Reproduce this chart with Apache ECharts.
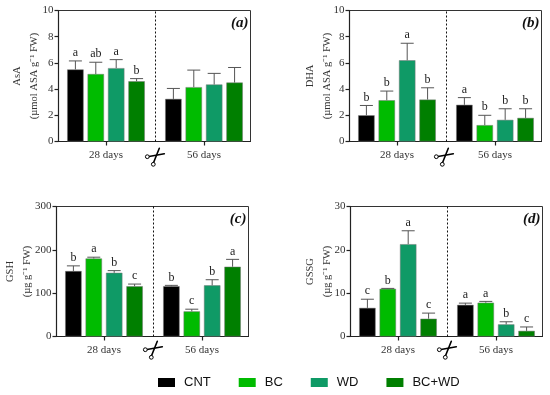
<!DOCTYPE html>
<html><head><meta charset="utf-8">
<script src="https://cdn.jsdelivr.net/npm/echarts@6/dist/echarts.min.js"></script>
<style>html,body{margin:0;padding:0;background:#fff}#c{width:550px;height:395px}</style>
</head><body><div id="c"></div>
<script>
const days = [28, 56];
const treatments = ['CNT', 'BC', 'WD', 'BC+WD'];
const colors = ['#000000', '#00bb00', '#0f9a66', '#007f00'];

// values are listed treatment by treatment for 28 days, then 56 days
const asaMean = [5.5, 5.15, 5.6, 4.6, 3.25, 4.15, 4.35, 4.5];
const asaTop = [6.15, 6.05, 6.25, 4.8, 4.05, 5.45, 5.2, 5.65];
const asaLetters = ['a', 'ab', 'a', 'b', '', '', '', ''];

const dhaMean = [2.0, 3.15, 6.2, 3.2, 2.8, 1.25, 1.65, 1.8];
const dhaTop = [2.75, 3.85, 7.5, 4.1, 3.35, 2.0, 2.5, 2.5];
const dhaLetters = ['b', 'b', 'a', 'b', 'a', 'b', 'b', 'b'];

const gshMean = [151, 180, 147, 116, 116, 58, 118, 161];
const gshTop = [163, 183, 152, 121, 118, 63, 131, 178];
const gshLetters = ['b', 'a', 'b', 'c', 'b', 'c', 'b', 'a'];

const gssgMean = [6.6, 11, 21.3, 4.1, 7.3, 7.8, 2.8, 1.3];
const gssgTop = [8.6, 11.1, 24.4, 5.4, 7.7, 8.1, 3.4, 2.2];
const gssgLetters = ['c', 'b', 'a', 'c', 'a', 'a', 'b', 'c'];

const panels = [
  {tag:'(a)', name:'AsA\n(µmol ASA g⁻¹ FW)', max:10, step:2, mean:asaMean, top:asaTop, letters:asaLetters, left:58.5, y:10.5, h:131, gap:16, sc:[155,156]},
  {tag:'(b)', name:'DHA\n(µmol ASA g⁻¹ FW)', max:10, step:2, mean:dhaMean, top:dhaTop, letters:dhaLetters, left:349.5, y:10.5, h:131, gap:14, sc:[444,156]},
  {tag:'(c)', name:'GSH\n(µg g⁻¹ FW)', max:300, step:100, mean:gshMean, top:gshTop, letters:gshLetters, left:56.5, y:206.5, h:130, gap:21, sc:[153,349]},
  {tag:'(d)', name:'GSSG\n(µg g⁻¹ FW)', max:30, step:10, mean:gssgMean, top:gssgTop, letters:gssgLetters, left:350.5, y:206.5, h:130, gap:15, sc:[447,349]}
];

const serif = '"Liberation Serif", serif';
const W = 192, barW = 16.4, pitch = 20.4;
const xMin = 14.43, xMax = 69.29, cutDay = 42;

const grid = [], xAxis = [], yAxis = [], series = [], title = [], graphic = [];
panels.forEach((p, g) => {
  grid.push({left:p.left, top:p.y, width:W, height:p.h, show:true, outerBoundsMode:'none', borderColor:'#333', borderWidth:1, backgroundColor:'transparent'});
  xAxis.push({type:'value', gridIndex:g, min:xMin, max:xMax, splitLine:{show:false},
    axisLine:{lineStyle:{color:'#222', width:1.2}},
    axisTick:{customValues:days, length:4, lineStyle:{color:'#222', width:1.2}},
    axisLabel:{customValues:days, formatter:v => v + ' days', color:'#333', fontFamily:serif, fontSize:11, margin:8}});
  yAxis.push({type:'value', gridIndex:g, min:0, max:p.max, interval:p.step, splitLine:{show:false},
    name:p.name, nameLocation:'middle', nameGap:p.gap, nameMoveOverlap:false,
    nameTextStyle:{color:'#333', fontFamily:serif, fontSize:10.5, lineHeight:17},
    axisLine:{show:true, lineStyle:{color:'#222', width:1.2}},
    axisTick:{show:true, length:4, lineStyle:{color:'#222', width:1.2}},
    axisLabel:{color:'#333', fontFamily:serif, fontSize:11, margin:5}});
  title.push({text:p.tag, left:p.left + W - 7, top:p.y, textAlign:'right',
    textStyle:{fontFamily:serif, fontStyle:'italic', fontWeight:'bold', fontSize:15, color:'#111'}});

  treatments.forEach((t, i) => {
    series.push({type:'bar', name:t, xAxisIndex:g, yAxisIndex:g, barWidth:barW, barGap:'24.4%',
      itemStyle:{color:colors[i], borderColor:'#777', borderWidth:0.5},
      data:days.map((d, k) => [d, p.mean[i + k * 4]]),
      animation:false, z:2});
  });
  treatments.forEach((t, i) => {
    series.push({type:'custom', name:t + ' error', xAxisIndex:g, yAxisIndex:g, animation:false, z:3,
      encode:{x:0, y:[1,2]},
      markLine: i === 0 ? {silent:true, symbol:'none', label:{show:false}, animation:false,
        lineStyle:{color:'#111', type:[2,2], width:1}, data:[{xAxis:cutDay}]} : undefined,
      data:days.map((d, k) => [d, p.mean[i + k * 4], p.top[i + k * 4], p.letters[i + k * 4]]),
      renderItem:(params, api) => {
        const dx = (i - 1.5) * pitch;
        const a = api.coord([api.value(0), api.value(1)]);
        const b = api.coord([api.value(0), api.value(2)]);
        const x = a[0] + dx;
        const stroke = {stroke:'#555', lineWidth:1};
        return {type:'group', children:[
          {type:'line', shape:{x1:x, y1:a[1], x2:x, y2:b[1]}, style:stroke},
          {type:'line', shape:{x1:x - 6.5, y1:b[1], x2:x + 6.5, y2:b[1]}, style:stroke},
          {type:'text', style:{text:p.letters[params.dataIndex * 4 + i], x:x, y:b[1] - 2, align:'center', verticalAlign:'bottom',
            fontFamily:serif, fontSize:12, fill:'#222'}}
        ]};
      }});
  });

  const [sx, sy] = p.sc;
  const blade = (x1, y1, x2, y2, w) => ({type:'line', shape:{x1:sx + x1, y1:sy + y1, x2:sx + x2, y2:sy + y2}, style:{stroke:'#000', lineWidth:w, lineCap:'round'}});
  const ring = (x, y) => ({type:'circle', shape:{cx:sx + x, cy:sy + y, r:1.9}, style:{fill:'#fff', stroke:'#000', lineWidth:1}});
  graphic.push(blade(-6, 0.5, 9.3, -2.3, 1.6), blade(-1.4, 6.5, 4.3, -7.7, 1.6), ring(-7.7, 0.7), ring(-1.7, 8.3));
});

const chart = echarts.init(document.getElementById('c'), null, {renderer:'canvas'});
chart.setOption({
  animation:false, backgroundColor:'#fff', grid, xAxis, yAxis, series, title, graphic,
  legend:{data:treatments, left:153, top:371, itemWidth:17, itemHeight:9, itemGap:28, icon:'rect', selectedMode:false,
    itemStyle:{borderWidth:0},
    textStyle:{fontFamily:'"Liberation Sans", sans-serif', fontSize:13, color:'#111', padding:[0,0,0,4]}}
});
</script></body></html>
